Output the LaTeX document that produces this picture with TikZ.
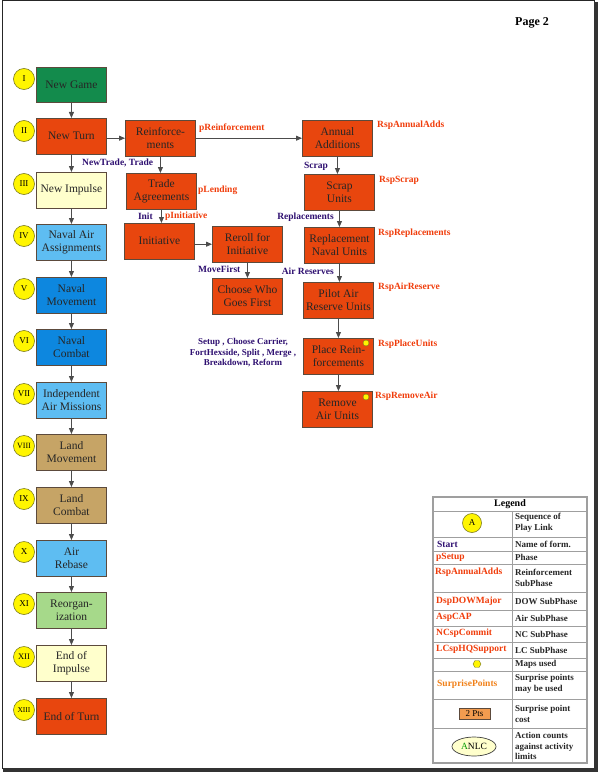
\documentclass[tikz,border=0pt]{standalone}
\usepackage{fontspec}
\setmainfont{Liberation Serif}
\usetikzlibrary{arrows.meta,shapes.geometric}
\definecolor{cRed}{HTML}{E8460E}
\definecolor{cGreen}{HTML}{138B4C}
\definecolor{cPale}{HTML}{FFFFCC}
\definecolor{cLBlue}{HTML}{5EBDF2}
\definecolor{cBlue}{HTML}{0D87DF}
\definecolor{cTan}{HTML}{C6A466}
\definecolor{cLGreen}{HTML}{A6D98A}
\definecolor{cNavy}{HTML}{2E0F70}
\definecolor{cLbl}{HTML}{F03C0A}
\definecolor{cOrange}{HTML}{F08018}
\definecolor{cPts}{HTML}{F29B4F}
\definecolor{cBorder}{HTML}{5C4A3C}
\definecolor{cYellow}{HTML}{FFF500}
\definecolor{cCirc}{HTML}{7A7A20}
\tikzset{
  box/.style={draw=cBorder, line width=0.9pt, minimum width=70pt, minimum height=35.5pt,
    inner sep=1pt, align=center, anchor=north west, text=black!85,
    font=\fontsize{11.5}{12.5}\selectfont},
  seq/.style={circle, draw=cCirc, line width=0.6pt, fill=cYellow, minimum size=21pt,
    inner sep=0pt, font=\fontsize{9}{9}\selectfont},
  arr/.style={draw=black!70, line width=0.8pt, -{Triangle[length=6pt,width=5pt]}},
  lblN/.style={font=\bfseries\fontsize{9.5}{10.5}\selectfont, text=cNavy, inner sep=0pt},
  lblR/.style={font=\bfseries\fontsize{9.5}{10.5}\selectfont, text=cLbl, inner sep=0pt},
  lgL/.style={font=\bfseries\fontsize{9.5}{10.5}\selectfont, inner sep=0pt, anchor=west},
  lgR/.style={font=\bfseries\fontsize{9}{10.8}\selectfont, inner sep=0pt, anchor=west, align=left, text=black!85},
  dot/.style={circle, fill=cYellow, draw=cCirc, line width=0.4pt, minimum size=6pt, inner sep=0pt},
  tline/.style={draw=gray!75, line width=1pt}
}
\begin{document}
\begin{tikzpicture}[x=1pt,y=-1pt]
\useasboundingbox (0,0) rectangle (598,773);
% frame
\draw[line width=1pt, black!85] (2.5,1) rectangle (594.5,768.5);
\fill[black!80] (594,2) rectangle (597.5,771.5);
\fill[black!80] (3,768) rectangle (597.5,771.5);
\node[font=\bfseries\fontsize{12}{12}\selectfont] (page) at (532,23) {Page 2};

% left column
\node[box, fill=cGreen] (s1) at (36,67) {New Game};
\node[box, fill=cRed] (s2) at (36,118) {New Turn};
\node[box, fill=cPale] (s3) at (36,172) {New Impulse};
\node[box, fill=cLBlue] (s4) at (36,224) {Naval Air\\Assignments};
\node[box, fill=cBlue] (s5) at (36,277) {Naval\\Movement};
\node[box, fill=cBlue] (s6) at (36,329) {Naval\\Combat};
\node[box, fill=cLBlue] (s7) at (36,382) {Independent\\Air Missions};
\node[box, fill=cTan] (s8) at (36,434) {Land\\Movement};
\node[box, fill=cTan] (s9) at (36,487) {Land\\Combat};
\node[box, fill=cLBlue] (s10) at (36,540) {Air\\Rebase};
\node[box, fill=cLGreen] (s11) at (36,592) {Reorgan-\\ization};
\node[box, fill=cPale] (s12) at (36,645) {End of\\Impulse};
\node[box, fill=cRed] (s13) at (36,698) {End of Turn};

\node[seq] (c1) at (24,79) {I};
\node[seq] (c2) at (24,131) {II};
\node[seq] (c3) at (24,184) {III};
\node[seq] (c4) at (24,236) {IV};
\node[seq] (c5) at (24,289) {V};
\node[seq] (c6) at (24,341) {VI};
\node[seq] (c7) at (24,394) {VII};
\node[seq, font=\fontsize{8}{8}\selectfont] (c8) at (24,446) {VIII};
\node[seq] (c9) at (24,499) {IX};
\node[seq] (c10) at (24,552) {X};
\node[seq] (c11) at (24,604) {XI};
\node[seq, font=\fontsize{8.5}{8}\selectfont] (c12) at (24,657) {XII};
\node[seq, font=\fontsize{7.5}{8}\selectfont] (c13) at (24,710) {XIII};

\foreach \a/\b in {s1/s2,s2/s3,s3/s4,s4/s5,s5/s6,s6/s7,s7/s8,s8/s9,s9/s10,s10/s11,s11/s12,s12/s13}
  \draw[arr] (\a) -- (\b);

% middle column
\node[box, fill=cRed] (reinf) at (125,120) {Reinforce-\\ments};
\node[box, fill=cRed] (trade) at (126,173) {Trade\\Agreements};
\node[box, fill=cRed] (init) at (124,223) {Initiative};
\node[box, fill=cRed] (reroll) at (212,226) {Reroll for\\Initiative};
\node[box, fill=cRed] (choose) at (212,278) {Choose Who\\Goes First};

% right column
\node[box, fill=cRed] (annual) at (302,120) {Annual\\Additions};
\node[box, fill=cRed] (scrap) at (304,174) {Scrap\\Units};
\node[box, fill=cRed] (repl) at (304,227) {Replacement\\Naval Units};
\node[box, fill=cRed] (pilot) at (303,282) {Pilot Air\\Reserve Units};
\node[box, fill=cRed] (place) at (303,338) {Place Rein-\\forcements};
\node[box, fill=cRed] (remove) at (302,391) {Remove\\Air Units};
\node[dot] (d1) at (366,343) {};
\node[dot] (d2) at (366,397) {};

% connectors
\draw[arr] (s2.east |- reinf) -- (reinf.west);
\draw[arr] (reinf) -- (annual);
\draw[arr] (reinf.south) -- (reinf.south |- trade.north);
\draw[arr] (trade.south) -- (trade.south |- init.north);
\draw[arr] (init.east |- reroll) -- (reroll.west);
\draw[arr] (reroll) -- (choose);
\draw[arr] (annual.south) -- (annual.south |- scrap.north);
\draw[arr] (scrap) -- (repl);
\draw[arr] (repl.south) -- (repl.south |- pilot.north);
\draw[arr] (pilot) -- (place);
\draw[arr] (place.south) -- (place.south |- remove.north);

% labels
\node[lblN, anchor=west] (l1) at (82,163) {NewTrade, Trade};
\node[lblR, anchor=west] (l2) at (199,128) {pReinforcement};
\node[lblR, anchor=west] (l3) at (198,190) {pLending};
\node[lblN, anchor=east] (l4) at (153,216) {Init};
\node[lblR, anchor=west] (l5) at (165,216) {pInitiative};
\node[lblN, anchor=west] (l6) at (198,269) {MoveFirst};
\node[lblN, anchor=west] (l7) at (304,166) {Scrap};
\node[lblN, anchor=east] (l8) at (334,217) {Replacements};
\node[lblN, anchor=east] (l9) at (334,271) {Air Reserves};
\node[lblR, anchor=west] (l10) at (377,125) {RspAnnualAdds};
\node[lblR, anchor=west] (l11) at (379,180) {RspScrap};
\node[lblR, anchor=west] (l12) at (378,233) {RspReplacements};
\node[lblR, anchor=west] (l13) at (378,287) {RspAirReserve};
\node[lblR, anchor=west] (l14) at (378,344) {RspPlaceUnits};
\node[lblR, anchor=west] (l15) at (375,396) {RspRemoveAir};
\node[lblN, align=center, font=\bfseries\fontsize{9}{10.5}\selectfont] (l16) at (243,353)
  {Setup , Choose Carrier,\\FortHexside, Split , Merge ,\\Breakdown, Reform};

% legend table
\draw[tline, line width=1.4pt] (433,497) rectangle (587,763);
\foreach \yy in {511,537,551,564,592,610,626,642,658,671,699,728}
  \draw[tline] (433,\yy) -- (587,\yy);
\draw[tline] (512,511) -- (512,763);
\node[font=\bfseries\fontsize{10}{10}\selectfont] (lg) at (510,504) {Legend};
\node[seq, minimum size=19pt] (lgA) at (472,523) {A};
\node[lgR] (r1) at (515,523) {Sequence of\\Play Link};
\node[lgL, text=cNavy] (k2) at (437,544) {Start};
\node[lgR] (r2) at (515,544) {Name of form.};
\node[lgL, text=cLbl] (k3) at (436,557) {pSetup};
\node[lgR] (r3) at (515,557) {Phase};
\node[lgL, text=cLbl] (k4) at (435,572) {RspAnnualAdds};
\node[lgR] (r4) at (515,577.5) {Reinforcement\\SubPhase};
\node[lgL, text=cLbl] (k5) at (436,601) {DspDOWMajor};
\node[lgR] (r5) at (515,601) {DOW SubPhase};
\node[lgL, text=cLbl] (k6) at (436,617) {AspCAP};
\node[lgR] (r6) at (515,618) {Air SubPhase};
\node[lgL, text=cLbl] (k7) at (436,633) {NCspCommit};
\node[lgR] (r7) at (515,634) {NC SubPhase};
\node[lgL, text=cLbl] (k8) at (436,649) {LCspHQSupport};
\node[lgR] (r8) at (515,650) {LC SubPhase};
\node[regular polygon, regular polygon sides=6, fill=cYellow, draw=cCirc, line width=0.4pt,
  minimum size=8pt, inner sep=0pt] (hex) at (477,664) {};
\node[lgR] (r9) at (515,664) {Maps used};
\node[lgL, text=cOrange] (k10) at (437,684) {SurprisePoints};
\node[lgR] (r10) at (515,684) {Surprise points\\may be used};
\node[draw=cBorder, fill=cPts, line width=0.7pt, minimum width=31pt, minimum height=10.5pt,
  inner sep=0pt, font=\fontsize{9}{9}\selectfont] (pts) at (474.5,714) {2 Pts};
\node[lgR] (r11) at (515,714) {Surprise point\\cost};
\node[ellipse, draw=black!75, fill=cPale, line width=0.7pt, minimum width=44pt, minimum height=19pt,
  inner sep=0pt, font=\fontsize{9.5}{9.5}\selectfont] (anlc) at (474,746.5)
  {{\color{green!60!black}A}NLC};
\node[lgR] (r12) at (515,746) {Action counts\\against activity\\limits};
\end{tikzpicture}
\end{document}
